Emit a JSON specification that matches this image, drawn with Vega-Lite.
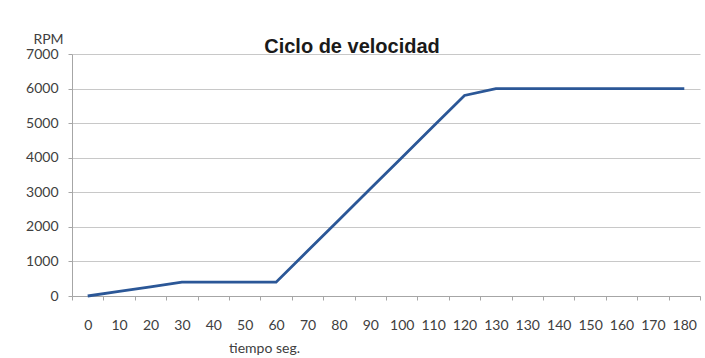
{
  "$schema": "https://vega.github.io/schema/vega-lite/v6.json",
  "width": 628,
  "height": 242,
  "autosize": "none",
  "padding": {"left": 72, "top": 54, "right": 5, "bottom": 62},
  "background": "white",
  "title": {
    "text": "Ciclo de velocidad",
    "font": "Liberation Sans",
    "fontSize": 20,
    "fontWeight": "bold",
    "color": "#1a1a1a",
    "anchor": "middle",
    "dx": -34,
    "offset": -25
  },
  "data": {
    "values": [
      {"t": "0", "rpm": 0},
      {"t": "10", "rpm": 133},
      {"t": "20", "rpm": 267},
      {"t": "30", "rpm": 400},
      {"t": "40", "rpm": 400},
      {"t": "50", "rpm": 400},
      {"t": "60", "rpm": 400},
      {"t": "70", "rpm": 1300},
      {"t": "80", "rpm": 2200},
      {"t": "90", "rpm": 3100},
      {"t": "100", "rpm": 4000},
      {"t": "110", "rpm": 4900},
      {"t": "120", "rpm": 5800},
      {"t": "130", "rpm": 6000},
      {"t": "130 ", "rpm": 6000},
      {"t": "140", "rpm": 6000},
      {"t": "150", "rpm": 6000},
      {"t": "160", "rpm": 6000},
      {"t": "170", "rpm": 6000},
      {"t": "180", "rpm": 6000}
    ]
  },
  "mark": {"type": "line", "color": "#2b5797", "strokeWidth": 2.8},
  "encoding": {
    "x": {
      "field": "t",
      "type": "ordinal",
      "sort": null,
      "scale": {"paddingInner": 0, "paddingOuter": 0},
      "axis": {
        "title": "tiempo seg.",
        "titleFont": "Lato",
        "titleFontSize": 14,
        "titleFontWeight": "normal",
        "titleColor": "#404040",
        "titleX": 192,
        "titleY": 56,
        "titleAlign": "center",
        "titleBaseline": "alphabetic",
        "labelAngle": 0,
        "labelFont": "Lato",
        "labelFontSize": 14,
        "labelColor": "#404040",
        "labelPadding": 18,
        "tickBand": "extent",
        "ticks": true,
        "tickSize": 4,
        "tickColor": "#a6a6a6",
        "domainColor": "#a6a6a6",
        "grid": false
      }
    },
    "y": {
      "field": "rpm",
      "type": "quantitative",
      "scale": {"domain": [0, 7000], "nice": false},
      "axis": {
        "values": [0, 1000, 2000, 3000, 4000, 5000, 6000, 7000],
        "format": "d",
        "title": "RPM",
        "titleAngle": 0,
        "titleFont": "Lato",
        "titleFontSize": 14,
        "titleFontWeight": "normal",
        "titleColor": "#404040",
        "titleX": -24,
        "titleY": -11,
        "titleAlign": "center",
        "titleBaseline": "alphabetic",
        "labelFont": "Lato",
        "labelFontSize": 14,
        "labelColor": "#404040",
        "labelPadding": 10,
        "tickSize": 4,
        "tickColor": "#a6a6a6",
        "domainColor": "#a6a6a6",
        "grid": true,
        "gridColor": "#c8c8c8",
        "gridWidth": 1
      }
    }
  },
  "config": {"view": {"stroke": null}}
}
